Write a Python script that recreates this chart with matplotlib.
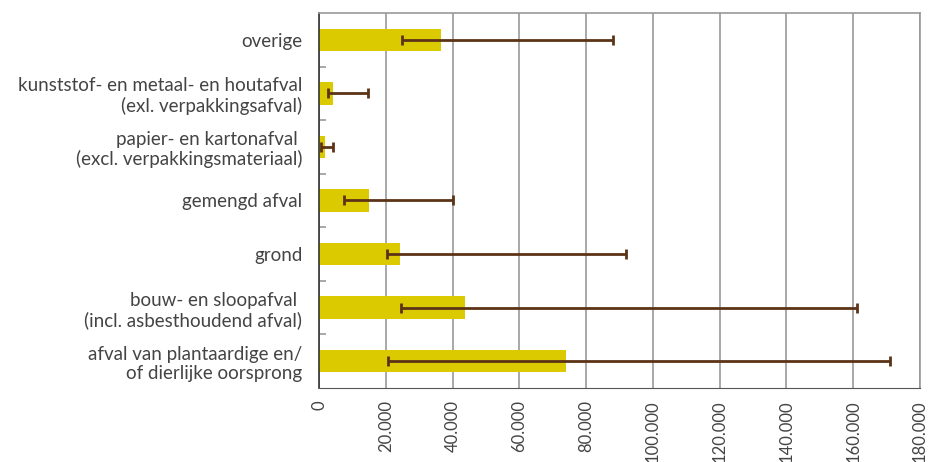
import numpy as np
import matplotlib.pyplot as plt
from matplotlib.ticker import FuncFormatter, FixedLocator

# categories from bottom to top
categories = [
    "afval van plantaardige en/\nof dierlijke oorsprong",
    "bouw- en sloopafval \n(incl. asbesthoudend afval)",
    "grond",
    "gemengd afval",
    "papier- en kartonafval \n(excl. verpakkingsmateriaal)",
    "kunststof- en metaal- en houtafval\n(exl. verpakkingsafval)",
    "overige",
]
values = [74000, 43700, 24300, 15000, 1700, 4200, 36500]
low = [20600, 24500, 20500, 7600, 600, 2800, 25000]
high = [171000, 161000, 92000, 40200, 4100, 14800, 88000]

plt.rcParams['font.family'] = ['Lato', 'DejaVu Sans']

fig = plt.figure(figsize=(9.29, 4.62), dpi=100)
ax = fig.add_axes([0.3434, 0.1602, 0.6469, 0.8117])

y = np.arange(len(categories))
ax.barh(y, values, height=0.42, color='#dcca00', zorder=2)

# error bars span from low to high
for yi, lo, hi in zip(y, low, high):
    ax.errorbar([(lo + hi) / 2], [yi], xerr=[[(hi - lo) / 2]], fmt='none',
                ecolor='#5c3317', elinewidth=2, capsize=3.5, capthick=2, zorder=3)

ax.set_xlim(0, 180000)
ax.set_ylim(-0.5, len(categories) - 0.5)
ax.set_xticks(np.arange(0, 180001, 20000))
ax.xaxis.set_major_formatter(FuncFormatter(lambda v, p: f"{int(v):,}".replace(",", ".")))
ax.tick_params(axis='x', rotation=90, length=0, pad=9, labelsize=12, labelcolor='#444444')

ax.set_yticks(y)
ax.set_yticklabels(categories, fontsize=13.5, color='#444444', ha='right', linespacing=1.15)
ax.tick_params(axis='y', length=0, pad=12)
ax.yaxis.set_minor_locator(FixedLocator(np.arange(0.5, len(categories) - 1, 1)))
ax.tick_params(axis='y', which='minor', direction='in', length=5, color='#999999', width=1.2)

ax.grid(axis='x', color='#999999', linewidth=1.2, zorder=0)
ax.set_axisbelow(True)
for s in ['top', 'right']:
    ax.spines[s].set_color('#999999')
    ax.spines[s].set_linewidth(1.2)
ax.spines['left'].set_color('#333333')
ax.spines['bottom'].set_color('#555555')
ax.spines['left'].set_linewidth(1.2)

fig.savefig('out.png', dpi=100)
